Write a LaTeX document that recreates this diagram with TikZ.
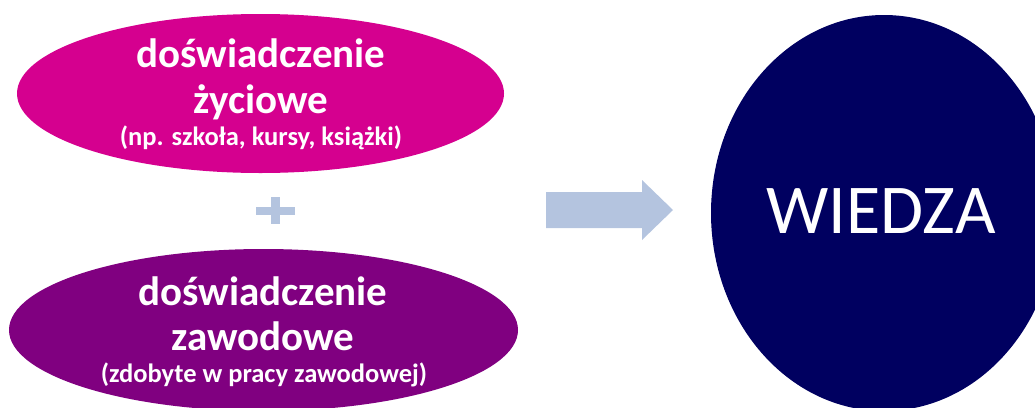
\documentclass[tikz,border=0pt]{standalone}
\usepackage{fontspec}
\setmainfont{Carlito}
\usetikzlibrary{shapes.geometric}
\definecolor{lifemagenta}{HTML}{D5008F}
\definecolor{workpurple}{HTML}{800080}
\definecolor{knownavy}{HTML}{000060}
\definecolor{paleblue}{HTML}{B4C4DF}
\tikzset{
  blob/.style={ellipse, inner sep=0pt, draw=none},
  title/.style={text=white, font=\bfseries\fontsize{41}{46}\selectfont, align=center, inner sep=0pt},
  note/.style={text=white, font=\bfseries\fontsize{26.5}{30}\selectfont, inner sep=0pt},
}
\begin{document}
\begin{tikzpicture}[x=1pt,y=-1pt]
  \useasboundingbox (0,0) rectangle (1035,407);
  \clip (0,0) rectangle (1035,407);
  % life experience
  \node[blob, fill=lifemagenta, minimum width=487pt, minimum height=159pt] (life) at (260.5,93.5) {};
  \node[title, anchor=base] (lifet1) at (261,67) {doświadczenie};
  \node[title, anchor=base] (lifet2) at (261,113) {życiowe};
  \node[note, anchor=base] (lifen) at (261,145) {(np. szkoła, kursy, książki)};
  % plus sign
  \node[fill=paleblue, minimum width=39pt, minimum height=8.5pt, inner sep=0pt] (plush) at (275.5,211) {};
  \node[fill=paleblue, minimum width=9pt, minimum height=27.5pt, inner sep=0pt] (plusv) at (275.5,210.5) {};
  % professional experience
  \node[blob, fill=workpurple, minimum width=509pt, minimum height=162pt] (work) at (263.5,330) {};
  \node[title, anchor=base] (workt1) at (263,305) {doświadczenie};
  \node[title, anchor=base] (workt2) at (263,350) {zawodowe};
  \node[note, anchor=base] (workn) at (264,382) {(zdobyte w pracy zawodowej)};
  % block arrow
  \fill[paleblue] (546,192) -- (642,192) -- (642,180) -- (673,210) -- (642,240) -- (642,228) -- (546,228) -- cycle;
  % knowledge
  \node[blob, fill=knownavy, minimum width=346pt, minimum height=396pt] (know) at (884,213) {};
  \node[text=white, font=\fontsize{70}{74}\selectfont, inner sep=0pt, anchor=base] (knowt) at (881,233) {WIEDZA};
\end{tikzpicture}
\end{document}
